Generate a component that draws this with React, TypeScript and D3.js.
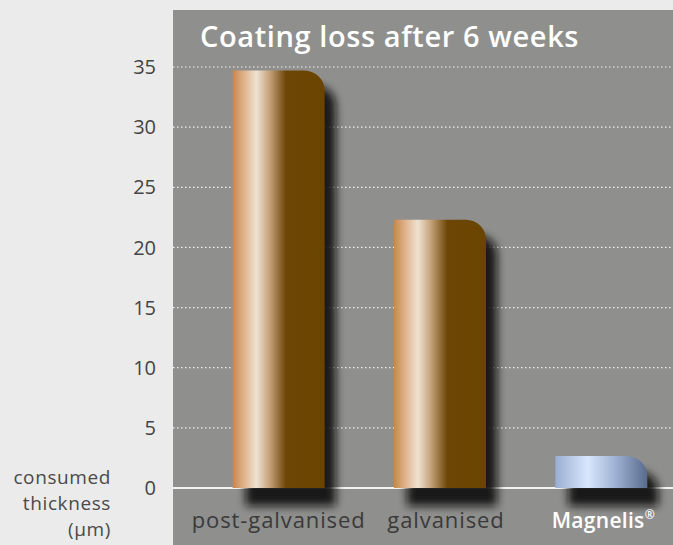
import React from 'react';
import * as d3 from 'd3';

const categories = ['post-galvanised', 'galvanised', 'Magnelis'];
const values = [34.7, 22.3, 2.65];
const yTicks = [0, 5, 10, 15, 20, 25, 30, 35];
const title = 'Coating loss after 6 weeks';
const yLabel = ['consumed', 'thickness', '(µm)'];

const W = 673;
const H = 545;
const panelX = 173;
const panelY = 10;
const baseY = 488;
const topY = 67;

// top-right rounded bar outline
const barPath = (x: number, y: number, w: number, h: number, r: number) => {
  const rr = Math.min(r, w / 2, h);
  return `M${x},${y + h}V${y}H${x + w - rr}A${rr},${rr} 0 0 1 ${x + w},${y + rr}V${y + h}Z`;
};

const App = () => {
  const x = d3.scaleBand<string>()
    .domain(categories)
    .range([198, 682])
    .paddingInner(0.43)
    .paddingOuter(0.215);

  const y = d3.scaleLinear().domain([0, 35]).range([baseY, topY]);

  const font = "'Open Sans', 'DejaVu Sans', sans-serif";

  return (
    <svg width={W} height={H} style={{ position: 'absolute', left: 0, top: 0, display: 'block' }}>
      <defs>
        <linearGradient id="copper" x1="0" x2="1" y1="0" y2="0">
          <stop offset="0" stopColor="#c98649" />
          <stop offset="0.12" stopColor="#deb28a" />
          <stop offset="0.26" stopColor="#efe2d2" />
          <stop offset="0.4" stopColor="#c5a27a" />
          <stop offset="0.58" stopColor="#6d4606" />
          <stop offset="1" stopColor="#6a4400" />
        </linearGradient>
        <linearGradient id="steel" x1="0" x2="1" y1="0" y2="0">
          <stop offset="0" stopColor="#9aaed2" />
          <stop offset="0.35" stopColor="#d9e7fd" />
          <stop offset="0.65" stopColor="#9fb2d4" />
          <stop offset="1" stopColor="#586b8d" />
        </linearGradient>
        <filter id="shadow" x="-30%" y="-30%" width="160%" height="160%">
          <feGaussianBlur stdDeviation="4" />
        </filter>
      </defs>

      <rect x={0} y={0} width={W} height={H} fill="#ebebeb" />
      <rect x={panelX} y={panelY} width={W - panelX} height={H - panelY} fill="#8f8f8d" />

      {/* gridlines */}
      {yTicks.filter(t => t > 0).map(t => (
        <line key={t} x1={panelX} x2={W} y1={y(t)} y2={y(t)}
          stroke="#f4f4f4" strokeWidth={1.2} strokeDasharray="1.5,2.5" />
      ))}
      <line x1={panelX} x2={W} y1={y(0)} y2={y(0)} stroke="#f2f2f2" strokeWidth={2} />

      {/* y tick labels */}
      {yTicks.map(t => (
        <text key={t} x={156} y={y(t)} dy="0.36em" textAnchor="end"
          fontFamily={font} fontSize={20} fill="#444">{t}</text>
      ))}

      {yLabel.map((s, i) => (
        <text key={s} x={111} y={484 + i * 26} textAnchor="end"
          fontFamily={font} fontSize={19} letterSpacing={0.6} fill="#4a4a4a">{s}</text>
      ))}

      {/* shadows */}
      {categories.map((c, i) => (
        <path key={c + 's'} d={barPath(x(c)! + 13, y(values[i]) + 15, x.bandwidth() - 2, y(0) - y(values[i]) + 3, 20)}
          fill="#111" opacity={0.9} filter="url(#shadow)" />
      ))}

      {/* bars */}
      {categories.map((c, i) => (
        <path key={c} d={barPath(x(c)!, y(values[i]), x.bandwidth(), y(0) - y(values[i]), 20)}
          fill={i === 2 ? 'url(#steel)' : 'url(#copper)'} />
      ))}

      {/* category labels */}
      {categories.map((c, i) => (
        i === 2 ? (
          <text key={c} x={x(c)! + x.bandwidth() / 2 + 2} y={528} textAnchor="middle"
            fontFamily={font} fontSize={21} fontWeight={600} letterSpacing={0.3} fill="#fff">
            {c}<tspan fontSize={12} dy={-9}>®</tspan>
          </text>
        ) : (
          <text key={c} x={x(c)! + x.bandwidth() / 2 + (i === 1 ? 6 : 0)} y={528} textAnchor="middle"
            fontFamily={font} fontSize={22} letterSpacing={0.9} fill="#3a3a3a">{c}</text>
        )
      ))}

      <text x={200} y={47} fontFamily={font} fontSize={29} fontWeight={600} letterSpacing={0.6} fill="#fff">{title}</text>
    </svg>
  );
};

export default App;
